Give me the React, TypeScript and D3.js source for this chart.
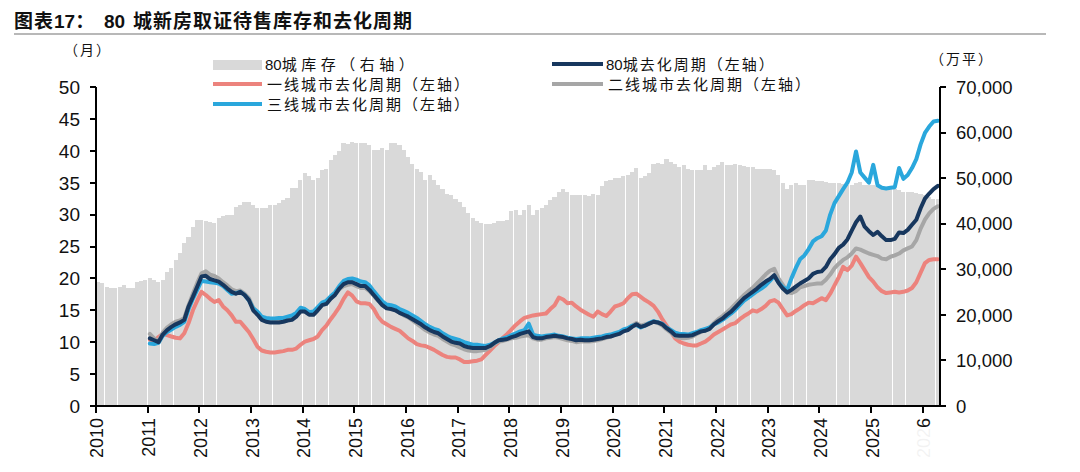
import React from 'react';
import * as d3 from 'd3';

// 80城库存（右轴，万平），monthly from 2010-01
const inventory80: number[] = [
  27300, 26900, 26200, 26000, 26000, 26200, 26500, 26000, 26000, 27300, 27400, 27700,
  28000, 27600, 27300, 27600, 29400, 30200, 32100, 33600, 35800, 37100, 39200, 40900,
  40900, 40600, 40300, 40200, 41300, 41600, 41900, 42000, 43700, 44100, 44800, 44800,
  44100, 43500, 43500, 43400, 44100, 44200, 44500, 45100, 45600, 47900, 47900, 49600,
  51200, 50400, 49600, 50000, 51800, 52100, 53900, 55000, 55900, 57700, 57400, 58000,
  57800, 57800, 57800, 57300, 56100, 56100, 56600, 56100, 57800, 57800, 57300, 56100,
  54700, 53200, 52100, 51400, 49600, 50700, 49600, 48400, 47700, 46600, 46300, 45500,
  44800, 43700, 42300, 41200, 40600, 40200, 40000, 40000, 40200, 40500, 40500, 40900,
  42700, 43000, 42000, 43100, 44100, 42000, 43000, 43400, 44100, 45100, 45900, 47000,
  47700, 47000, 46300, 46300, 46300, 46300, 46100, 46600, 46300, 48200, 49300, 49600,
  50000, 50000, 50400, 50700, 51400, 52200, 50000, 50400, 51100, 53200, 53300, 53200,
  54200, 53600, 53200, 52500, 52900, 51900, 51800, 51800, 51800, 52900, 51800, 52500,
  52900, 53600, 52900, 52900, 53200, 52900, 52600, 52400, 52400, 52100, 52100, 52100,
  52100, 51800, 50700, 48900, 47700, 48600, 48900, 48600, 48400, 49600, 49600, 49400,
  49300, 49100, 49000, 48900, 48900, 48700, 48600, 48400, 49000, 49100, 48600, 48400,
  48400, 48200, 48000, 47900, 47700, 47600, 47300, 47000, 47000, 46900, 46800, 46500, 46200, 45800, 45500, 45400,
];

// 去化周期（左轴，月），monthly from 2011-01
const LINE_START_MONTH = 12;

const cycle80: number[] = [
  10.6, 10.3, 10.0, 11.2, 11.9, 12.4, 12.8, 13.1, 13.5, 15.6, 17.1, 18.7,
  20.3, 20.4, 19.9, 19.7, 19.5, 19.0, 18.4, 17.9, 17.6, 17.9, 17.4, 16.6,
  15.0, 14.3, 13.5, 13.2, 13.1, 13.1, 13.1, 13.2, 13.4, 13.5, 14.0, 14.8,
  14.8, 14.3, 14.3, 15.0, 15.8, 16.0, 16.8, 17.4, 18.4, 19.1, 19.4, 19.4,
  19.1, 18.8, 18.8, 18.2, 17.4, 16.6, 15.8, 15.3, 15.2, 15.0, 14.6, 14.3,
  14.0, 13.6, 13.2, 12.8, 12.3, 11.9, 11.6, 11.4, 10.9, 10.5, 10.1, 9.9,
  9.8, 9.4, 9.2, 9.1, 9.1, 9.1, 9.1, 9.4, 9.9, 10.3, 10.4, 10.5,
  10.8, 11.0, 11.3, 11.5, 11.7, 10.8, 10.6, 10.6, 10.8, 10.9, 11.0, 10.9,
  10.8, 10.6, 10.5, 10.3, 10.4, 10.3, 10.3, 10.4, 10.5, 10.6, 10.8, 10.9,
  11.1, 11.3, 11.7, 11.9, 12.4, 12.8, 12.4, 12.6, 12.9, 13.2, 13.1, 12.8,
  12.2, 11.7, 11.1, 11.0, 11.0, 11.0, 11.1, 11.4, 11.7, 11.8, 12.1, 12.8,
  13.3, 13.7, 14.3, 14.8, 15.5, 16.2, 16.9, 17.4, 17.9, 18.4, 19.0, 19.5,
  19.9, 20.5, 19.3, 18.4, 17.8, 18.2, 18.7, 19.2, 19.6, 20.0, 20.7, 21.0,
  21.1, 21.8, 23.0, 23.8, 24.8, 25.3, 26.1, 27.5, 28.8, 29.7, 28.1, 27.4,
  26.8, 27.3, 26.6, 26.0, 26.0, 26.2, 27.2, 27.1, 27.6, 28.4, 29.2, 31.0, 32.5, 33.3, 34.0, 34.5,
];

const cycleTier1: number[] = [
  10.4, 10.2, 10.8, 11.3, 11.1, 10.9, 10.7, 10.6, 11.4, 13.0, 15.0, 16.5,
  17.9, 17.4, 16.8, 16.3, 16.6, 15.6, 15.0, 14.2, 13.2, 13.2, 12.4, 11.6,
  10.5, 9.3, 8.7, 8.5, 8.4, 8.4, 8.5, 8.6, 8.8, 8.8, 9.0, 9.6,
  10.1, 10.3, 10.5, 10.9, 11.9, 12.6, 13.6, 14.5, 15.5, 16.8, 17.8, 17.3,
  16.4, 16.1, 16.1, 16.0, 15.2, 14.0, 13.2, 12.8, 12.4, 12.1, 11.8, 11.2,
  10.6, 10.2, 9.7, 9.5, 9.4, 9.1, 8.8, 8.4, 8.0, 7.7, 7.6, 7.6,
  7.3, 6.9, 6.9, 7.0, 7.1, 7.3, 8.0, 8.7, 9.4, 10.0, 10.7, 11.3,
  12.0, 12.7, 13.3, 13.8, 14.0, 14.2, 14.3, 14.4, 14.5, 15.2, 15.8, 17.0,
  16.7, 16.1, 16.2, 15.6, 15.1, 14.7, 14.3, 14.0, 14.8, 14.4, 14.1, 14.8,
  15.6, 15.8, 16.1, 16.9, 17.5, 17.6, 17.1, 16.6, 16.2, 15.7, 14.8, 13.6,
  12.6, 11.6, 10.6, 10.1, 9.8, 9.6, 9.5, 9.5, 9.8, 10.1, 10.6, 11.2,
  11.6, 12.0, 12.4, 12.8, 13.0, 13.6, 14.1, 14.5, 15.0, 14.8, 15.2, 15.7,
  16.4, 16.6, 16.2, 15.2, 14.2, 14.4, 14.9, 15.3, 15.8, 16.2, 16.1, 16.5,
  16.9, 16.6, 17.6, 18.9, 20.2, 21.8, 21.3, 22.0, 23.4, 22.4, 21.3, 20.2,
  19.5, 18.6, 18.0, 17.7, 17.8, 17.9, 17.8, 17.9, 18.1, 18.5, 19.4, 20.9, 22.4, 22.9, 23.0, 23.0,
];

const cycleTier2: number[] = [
  11.3, 10.6, 10.2, 11.5, 12.3, 12.8, 13.2, 13.4, 13.8, 15.8, 17.6, 19.3,
  20.8, 21.1, 20.6, 20.4, 20.0, 19.4, 18.9, 18.3, 18.0, 18.1, 17.6, 16.9,
  15.4, 14.6, 13.9, 13.6, 13.4, 13.4, 13.4, 13.5, 13.6, 13.8, 14.2, 14.9,
  14.9, 14.5, 14.6, 15.2, 16.0, 16.3, 16.9, 17.5, 18.3, 18.8, 19.0, 19.1,
  18.8, 18.5, 18.5, 18.0, 17.3, 16.5, 15.8, 15.4, 15.3, 15.1, 14.6, 14.2,
  13.9, 13.4, 12.9, 12.4, 11.9, 11.5, 11.2, 11.0, 10.5, 10.1, 9.7, 9.5,
  9.2, 8.9, 8.7, 8.6, 8.6, 8.7, 8.8, 9.2, 9.7, 10.1, 10.2, 10.4,
  10.6, 10.7, 10.9, 11.0, 11.1, 10.6, 10.4, 10.4, 10.6, 10.7, 10.8, 10.7,
  10.5, 10.3, 10.2, 10.0, 10.1, 10.1, 10.1, 10.2, 10.3, 10.5, 10.7, 10.9,
  11.2, 11.4, 11.8, 12.1, 12.6, 13.0, 12.6, 12.8, 13.0, 13.2, 13.0, 12.6,
  12.0, 11.5, 10.9, 10.7, 10.6, 10.7, 10.9, 11.3, 11.6, 11.9, 12.3, 13.0,
  13.6, 14.1, 14.7, 15.3, 16.0, 16.7, 17.4, 18.0, 18.5, 19.2, 19.9, 20.6,
  21.2, 21.5, 20.0, 19.0, 17.9, 17.7, 18.0, 18.6, 18.8, 19.0, 19.1, 19.2,
  19.2, 19.8, 20.6, 21.6, 22.3, 22.9, 23.3, 23.9, 24.7, 24.5, 24.2, 23.9,
  23.7, 23.5, 23.1, 23.0, 23.4, 23.6, 23.9, 24.4, 24.7, 25.0, 26.0, 27.8, 29.2, 30.2, 30.9, 31.3,
];

const cycleTier3: number[] = [
  9.8, 9.7, 9.9, 11.0, 11.6, 12.0, 12.4, 12.7, 13.2, 15.2, 16.8, 18.2,
  19.6, 19.5, 19.4, 19.3, 19.2, 18.8, 18.2, 17.6, 17.7, 17.9, 17.4, 16.6,
  15.3, 14.8, 14.0, 13.8, 13.7, 13.7, 13.8, 13.8, 14.0, 14.2, 14.6, 15.4,
  15.2, 14.7, 14.8, 15.5, 16.2, 16.5, 17.2, 17.8, 18.8, 19.6, 19.9, 20.0,
  19.8, 19.5, 19.4, 18.9, 18.0, 17.2, 16.4, 15.9, 15.8, 15.6, 15.2, 14.9,
  14.6, 14.2, 13.8, 13.3, 12.8, 12.4, 12.1, 11.9, 11.4, 11.0, 10.7, 10.5,
  10.3, 10.0, 9.8, 9.6, 9.6, 9.5, 9.4, 9.6, 9.9, 10.3, 10.6, 10.8,
  11.1, 11.4, 11.7, 11.9, 12.9, 11.2, 11.0, 10.9, 11.0, 11.1, 11.2, 11.0,
  10.9, 10.7, 10.6, 10.5, 10.6, 10.6, 10.6, 10.7, 10.8, 10.9, 11.1, 11.2,
  11.4, 11.6, 12.0, 12.2, 12.6, 12.7, 12.3, 12.6, 13.0, 13.3, 13.1, 12.9,
  12.3, 11.9, 11.5, 11.3, 11.3, 11.2, 11.4, 11.6, 11.9, 12.1, 12.3, 12.8,
  13.1, 13.5, 14.0, 14.5, 15.1, 15.8, 16.5, 17.0, 17.5, 18.0, 18.4, 18.9,
  19.6, 20.4, 19.4, 18.6, 18.2, 20.0, 21.6, 23.0, 23.6, 24.6, 25.8, 26.3,
  26.6, 27.5, 30.0, 31.8, 32.9, 34.0, 35.0, 36.6, 39.9, 36.6, 35.8, 35.0,
  37.8, 34.6, 34.2, 34.1, 34.2, 34.3, 37.3, 35.6, 36.2, 37.3, 38.7, 41.0, 42.8, 43.8, 44.6, 44.7,
];

const yearLabels: string[] = [
  '2010', '2011', '2012', '2013', '2014', '2015', '2016', '2017', '2018',
  '2019', '2020', '2021', '2022', '2023', '2024', '2025', '2026',
];
const leftTicks: number[] = [0, 5, 10, 15, 20, 25, 30, 35, 40, 45, 50];
const rightTicks: number[] = [0, 10000, 20000, 30000, 40000, 50000, 60000, 70000];

const COLORS = {
  bar: '#d9d9d9',
  tier1: '#ec837d',
  tier2: '#a6a6a6',
  tier3: '#2aa7dc',
  c80: '#17375e',
};

const CJK = '"Noto Sans CJK SC", "Noto Sans", sans-serif';
const LAT = '"Liberation Sans", Arial, sans-serif';

export default function App() {
  const W = 1080;
  const H = 472;
  const x0 = 96, x1 = 940, yTop = 87, yBot = 406;
  const n = inventory80.length;
  const x = d3.scaleLinear().domain([0, n]).range([x0, x1]);
  const yL = d3.scaleLinear().domain([0, 50]).range([yBot, yTop]);
  const yR = d3.scaleLinear().domain([0, 70000]).range([yBot, yTop]);
  const step = x(1) - x(0);

  const mkLine = (arr: number[]) =>
    d3
      .line<number>()
      .x((_, i) => x(LINE_START_MONTH + i + 0.5))
      .y((d) => yL(d))
      .curve(d3.curveLinear)(arr) || '';

  const fmt = d3.format(',');

  const series = [
    { data: cycleTier1, color: COLORS.tier1 },
    { data: cycleTier2, color: COLORS.tier2 },
    { data: cycleTier3, color: COLORS.tier3 },
    { data: cycle80, color: COLORS.c80 },
  ];

  const legendFont = { fontFamily: CJK, fontSize: 15, fill: '#111' } as const;

  return (
    <svg
      width={W}
      height={H}
      viewBox={`0 0 ${W} ${H}`}
      style={{ position: 'absolute', left: 0, top: 0, background: '#fff' }}
    >
      <rect x={0} y={0} width={W} height={H} fill="#fff" />
      {/* Title */}
      <text x={14} y={28} fontFamily={CJK} fontWeight="bold" fontSize={19} fill="#111">
        <tspan letterSpacing={1}>图表</tspan>
        <tspan fontFamily={LAT}>17</tspan>
        <tspan>：</tspan>
        <tspan x={104} fontFamily={LAT}>80</tspan>
        <tspan x={133} letterSpacing={1}>城新房取证待售库存和去化周期</tspan>
      </text>
      <line x1={14} x2={1046} y1={34} y2={34} stroke="#a0a0a0" strokeWidth={1.5} />

      {/* Unit labels */}
      <text x={64} y={55} fontFamily={CJK} fontSize={14} fill="#111" letterSpacing={2}>（月）</text>
      <text x={930} y={64} fontFamily={CJK} fontSize={14} fill="#111" letterSpacing={2}>（万平）</text>

      {/* Bars */}
      <g shapeRendering="crispEdges">
        {inventory80.map((v, i) => (
          <rect
            key={i}
            x={x(i)}
            y={yR(v)}
            width={step - 0.2}
            height={yBot - yR(v)}
            fill={COLORS.bar}
          />
        ))}
      </g>

      {/* Lines */}
      {series.map((s, k) => (
        <path
          key={k}
          d={mkLine(s.data)}
          fill="none"
          stroke={s.color}
          strokeWidth={4}
          strokeLinejoin="round"
          strokeLinecap="round"
        />
      ))}

      {/* Axes */}
      <g stroke="#000" strokeWidth={2} shapeRendering="crispEdges">
        <line x1={x0} x2={x0} y1={yTop} y2={yBot} />
        <line x1={x1} x2={x1} y1={yTop} y2={yBot} />
        <line x1={x0 - 6} x2={x1 + 6} y1={yBot} y2={yBot} />
        {leftTicks.map((t) => (
          <line key={'lt' + t} x1={x0 - 6} x2={x0} y1={yL(t)} y2={yL(t)} />
        ))}
        {rightTicks.map((t) => (
          <line key={'rt' + t} x1={x1} x2={x1 + 6} y1={yR(t)} y2={yR(t)} />
        ))}
        {yearLabels.map((_, i) => (
          <line key={'xt' + i} x1={x(i * 12)} x2={x(i * 12)} y1={yBot} y2={yBot + 7} />
        ))}
      </g>

      {leftTicks.map((t) => (
        <text
          key={'ll' + t}
          x={80}
          y={yL(t)}
          dy="0.36em"
          textAnchor="end"
          fontFamily={LAT}
          fontSize={19}
          fill="#111"
        >
          {t}
        </text>
      ))}
      {rightTicks.map((t) => (
        <text
          key={'rl' + t}
          x={956}
          y={yR(t)}
          dy="0.36em"
          textAnchor="start"
          fontFamily={LAT}
          fontSize={18.5}
          fill="#111"
        >
          {fmt(t)}
        </text>
      ))}
      {yearLabels.map((lab, i) => {
        const px = x(i * 12) + 1;
        return (
          <text
            key={'xl' + i}
            transform={`translate(${px},418) rotate(-90)`}
            dy="0.36em"
            textAnchor="end"
            fontFamily={LAT}
            fontSize={18}
            fill="#111"
          >
            {lab}
          </text>
        );
      })}

      {/* Legend */}
      <rect x={213} y={60} width={49} height={10} fill={COLORS.bar} />
      <text x={265} y={70} {...legendFont} letterSpacing={4.5}>
        <tspan fontFamily={LAT} letterSpacing={0}>80</tspan>城库存（右轴）
      </text>
      <line x1={213} x2={262} y1={84} y2={84} stroke={COLORS.tier1} strokeWidth={4} />
      <text x={267} y={90} {...legendFont} letterSpacing={2}>一线城市去化周期（左轴）</text>
      <line x1={213} x2={262} y1={104} y2={104} stroke={COLORS.tier3} strokeWidth={4} />
      <text x={267} y={110} {...legendFont} letterSpacing={2}>三线城市去化周期（左轴）</text>

      <line x1={552} x2={603} y1={64} y2={64} stroke={COLORS.c80} strokeWidth={4} />
      <text x={606} y={70} {...legendFont} letterSpacing={2}>
        <tspan fontFamily={LAT} letterSpacing={0}>80</tspan>城去化周期（左轴）
      </text>
      <line x1={552} x2={603} y1={84} y2={84} stroke={COLORS.tier2} strokeWidth={4} />
      <text x={608} y={90} {...legendFont} letterSpacing={2}>二线城市去化周期（左轴）</text>

      {/* watermark area covering the last label */}
      <rect x={912} y={429} width={163} height={36} fill="#fff" opacity={0.95} />
    </svg>
  );
}
